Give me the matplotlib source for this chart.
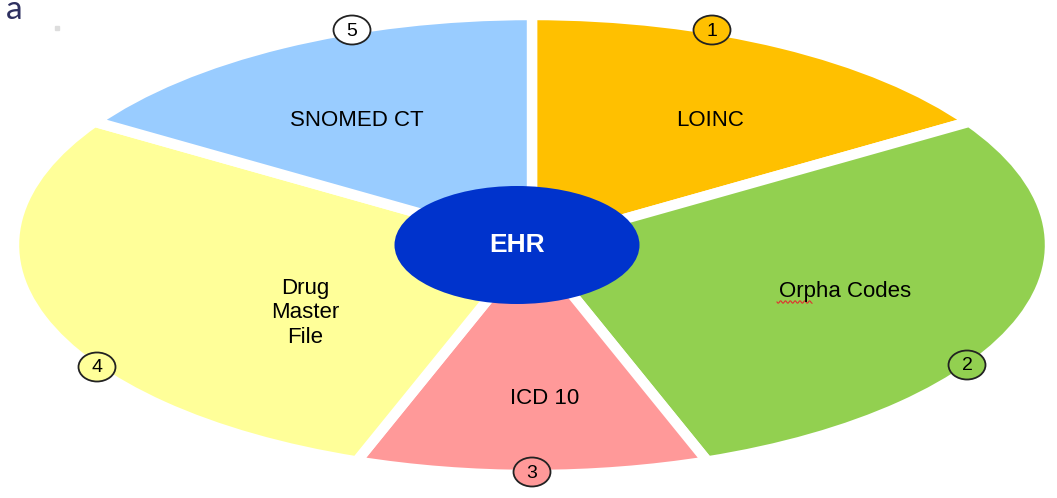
import numpy as np
import matplotlib.pyplot as plt
from matplotlib.patches import Ellipse

plt.rcParams['font.family'] = ['Liberation Sans', 'DejaVu Sans']

# slices, clockwise from 12 o'clock
labels = ['LOINC', 'Orpha Codes', 'ICD 10', 'Drug\nMaster\nFile', 'SNOMED CT']
shares = [16, 28.5, 11, 28.5, 16]
colors = ['#FFC000', '#92D050', '#FF9999', '#FFFF99', '#99CCFF']
numbers = ['1', '2', '3', '4', '5']
badge_fill = ['#FFC000', '#92D050', '#FF9999', '#FFFF99', '#FFFFFF']
centre_label = 'EHR'

W, H = 1057, 498
CX, CY, RX, RY = 532, 245, 518, 230   # ellipse centre / radii in pixels


def px(x):
    return (x - CX) / RX


def py(y):
    return (CY - y) / RY


fig = plt.figure(figsize=(W / 100, H / 100), dpi=100)
ax = fig.add_axes([0, 0, 1, 1])

ax.pie(shares, colors=colors, startangle=90, counterclock=False,
       wedgeprops=dict(edgecolor='white', linewidth=7.5))
ax.set_aspect('auto')
ax.set_xlim(px(0), px(W))
ax.set_ylim(py(H), py(0))
ax.axis('off')

# slice labels
label_pos = [(710, 120), (845, 291), (545, 399), (305, 313), (357, 120)]
for lab, (x, y) in zip(labels, label_pos):
    ax.text(px(x), py(y), lab, ha='center', va='center', fontsize=16,
            linespacing=1.2, color='black')

# red spellcheck squiggle under "Orpha"
xs = np.linspace(777, 812, 60)
ax.plot(px(xs), py(302 + 1.2 * np.sin((xs - 777) * 1.3)), color='#E03030', lw=0.8)

# central ellipse
ax.add_patch(Ellipse((px(517), py(245)), 245 / RX, 118 / RY,
                     facecolor='#0033CC', edgecolor='none', zorder=5))
ax.text(px(517), py(245), centre_label, ha='center', va='center',
        fontsize=19, fontweight='bold', color='white', zorder=6)

# numbered badges
badge_pos = [(712, 30), (967, 365), (532, 472), (97, 367), (352, 30)]
for n, fc, (x, y) in zip(numbers, badge_fill, badge_pos):
    ax.add_patch(Ellipse((px(x), py(y)), 37 / RX, 29 / RY, facecolor=fc,
                         edgecolor='#222222', linewidth=1.3, zorder=7))
    ax.text(px(x), py(y + 1), n, ha='center', va='center', fontsize=14,
            color='black', zorder=8)

# title fragment in the corner
fig.text(6 / W, 1 - 19 / H, 'a', fontsize=24, color='#2E3060',
         ha='left', va='baseline', family='Lato')
fig.patches.append(plt.Rectangle((55 / W, 1 - 30 / H), 4 / W, 4 / H,
                                 transform=fig.transFigure, color='#DDDDDD'))

fig.savefig('out.png', dpi=100)
